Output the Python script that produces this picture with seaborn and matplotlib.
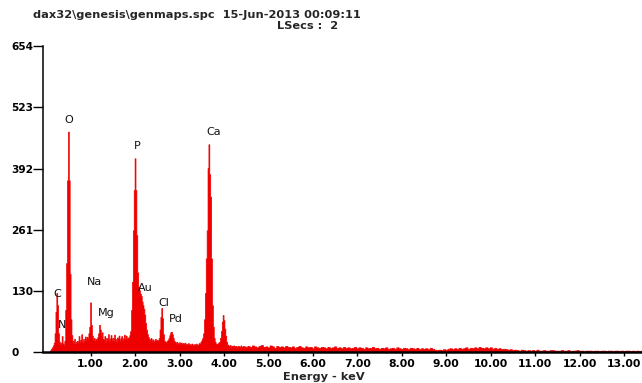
import numpy as np
import pandas as pd
import matplotlib
matplotlib.use("Agg")
import matplotlib.pyplot as plt
import seaborn as sns

# EDS spectrum: 20 eV channels from 0.10 keV to 4.50 keV
low_start_kev = 0.10
low_step_kev = 0.02
low_counts = [
    4, 7, 10, 14, 20, 40, 86, 126, 100, 40,
    22, 16, 20, 34, 18, 14, 24, 90, 190, 367,
    471, 367, 167, 70, 36, 24, 20, 28, 18, 22,
    24, 19, 34, 22, 26, 38, 21, 28, 24, 33,
    26, 32, 28, 40, 54, 106, 58, 35, 26, 30,
    24, 28, 26, 32, 40, 58, 48, 34, 42, 28,
    25, 34, 22, 30, 27, 38, 24, 29, 36, 26,
    30, 24, 37, 28, 22, 31, 27, 35, 24, 29,
    34, 26, 30, 37, 28, 35, 27, 31, 29, 36,
    45, 90, 150, 260, 346, 414, 346, 250, 170, 140,
    132, 125, 120, 108, 100, 92, 80, 62, 48, 38,
    32, 28, 26, 30, 24, 27, 22, 25, 28, 23,
    26, 24, 30, 48, 75, 94, 72, 38, 24, 22,
    20, 24, 26, 30, 36, 42, 43, 38, 30, 24,
    21, 18, 22, 19, 17, 21, 18, 20, 16, 19,
    17, 20, 15, 18, 16, 19, 14, 17, 15, 18,
    16, 14, 17, 15, 18, 14, 16, 19, 17, 22,
    25, 30, 40, 70, 126, 200, 260, 393, 444, 380,
    332, 200, 100, 54, 30, 22, 18, 16, 18, 20,
    22, 30, 45, 65, 79, 68, 50, 35, 22, 16,
    14, 12, 15, 11, 13, 12, 14, 10, 13, 12,
    11, 13, 12, 10, 14, 11, 12, 13, 10, 12,
    11,
]

# 50 eV channels from 4.55 keV to 13.40 keV
high_start_kev = 4.55
high_step_kev = 0.05
high_counts = [
    13, 11, 14, 12, 10, 13, 15, 11, 12, 10, 14, 12, 9, 13, 11, 12, 10, 13, 11, 10,
    12, 9, 11, 13, 10, 9, 12, 10, 11, 8, 12, 10, 9, 11, 10, 8, 11, 9, 10, 12,
    9, 10, 8, 11, 9, 10, 8, 9, 11, 8, 10, 9, 7, 10, 8, 9, 11, 8, 9, 7,
    9, 8, 10, 7, 8, 9, 7, 10, 8, 7, 9, 8, 6, 9, 8, 7, 9, 6, 8, 7,
    8, 6, 9, 7, 5, 4, 5, 4, 6, 5, 7, 8, 6, 8, 7, 9, 7, 8, 10, 7,
    9, 8, 10, 8, 11, 9, 8, 10, 8, 10, 7, 9, 7, 8, 6, 7, 6, 5, 6, 4,
    5, 4, 3, 5, 4, 3, 4, 3, 4, 3, 5, 3, 3, 4, 3, 3, 4, 4, 3, 3,
    3, 4, 3, 3, 4, 2, 3, 3, 4, 3, 3, 2, 3, 3, 3, 2, 3, 3, 2, 3,
    3, 2, 3, 3, 2, 3, 3, 2, 3, 2, 3, 3, 2, 3, 2, 3, 2, 3,
]

# Element labels and where they sit (keV, counts)
element_names = ["C", "N", "O", "Na", "Mg", "P", "Au", "Cl", "Pd", "Ca"]
element_kev = [0.26, 0.364, 0.515, 1.084, 1.362, 2.05, 2.24, 2.65, 2.91, 3.775]
element_counts = [125, 58, 496, 150, 83, 441, 137, 104, 70, 470]

y_ticks = [0, 130, 261, 392, 523, 654]
x_ticks = [1, 2, 3, 4, 5, 6, 7, 8, 9, 10, 11, 12, 13]
x_tick_labels = ["1.00", "2.00", "3.00", "4.00", "5.00", "6.00", "7.00",
                 "8.00", "9.00", "10.00", "11.00", "12.00", "13.00"]

header_line1 = "dax32\\genesis\\genmaps.spc  15-Jun-2013 00:09:11"
header_line2 = "LSecs :  2"
x_title = "Energy - keV"

# channel centres and bin edges
low_e = low_start_kev + low_step_kev * np.arange(len(low_counts))
high_e = high_start_kev + high_step_kev * np.arange(len(high_counts))
energy = np.concatenate([low_e, high_e])
counts = np.array(low_counts + high_counts, dtype=float)
widths = np.concatenate([np.full(len(low_e), low_step_kev),
                         np.full(len(high_e), high_step_kev)])
edges = np.concatenate([[energy[0] - widths[0] / 2],
                        (energy[:-1] + energy[1:]) / 2,
                        [energy[-1] + widths[-1] / 2]])
spectrum = pd.DataFrame({"energy": energy, "counts": counts})

sns.set_style("white")
plt.rcParams["font.family"] = ["DejaVu Sans"]

W, H = 642, 383
fig = plt.figure(figsize=(W / 100, H / 100), dpi=100)
ax = fig.add_axes([43 / W, 1 - 352 / H, 1 - 43 / W, (352 - 46) / H])

red = "#ee0000"
sns.histplot(data=spectrum, x="energy", weights="counts", bins=list(edges),
             element="step", fill=True, color=red, alpha=1.0, linewidth=0.5,
             ax=ax)

ax.set_xlim(-0.07, 13.4)
ax.set_ylim(0, 654)
ax.set_xlabel("")
ax.set_ylabel("")

ax.set_yticks(y_ticks)
ax.set_yticklabels([str(v) for v in y_ticks], fontsize=7.6, fontweight="bold")
ax.set_xticks(x_ticks)
ax.set_xticklabels(x_tick_labels, fontsize=7.8, fontweight="bold")
ax.tick_params(axis="y", direction="out", length=7.2, width=1.0, pad=15.5,
               colors="black", left=True)
ax.tick_params(axis="x", direction="out", length=3.2, width=1.0, pad=1.5,
               colors="black", bottom=True)
for lab in ax.get_yticklabels():
    lab.set_horizontalalignment("left")

for side in ["top", "right"]:
    ax.spines[side].set_visible(False)
ax.spines["left"].set_linewidth(1.1)
ax.spines["bottom"].set_linewidth(1.8)
ax.spines["left"].set_color("black")
ax.spines["bottom"].set_color("black")
ax.grid(False)

for name, ex, ey in zip(element_names, element_kev, element_counts):
    ax.text(ex, ey, name, ha="center", va="center", fontsize=8,
            color="#111111")

fig.text(33 / W, 1 - 18 / H, header_line1, ha="left", va="baseline",
         fontsize=8.2, fontweight="bold")
fig.text(277 / W, 1 - 29 / H, header_line2, ha="left", va="baseline",
         fontsize=8.2, fontweight="bold")
fig.text(324 / W, 1 - 380 / H, x_title, ha="center", va="baseline",
         fontsize=8.2, fontweight="bold")

fig.savefig("out.png", dpi=100)
